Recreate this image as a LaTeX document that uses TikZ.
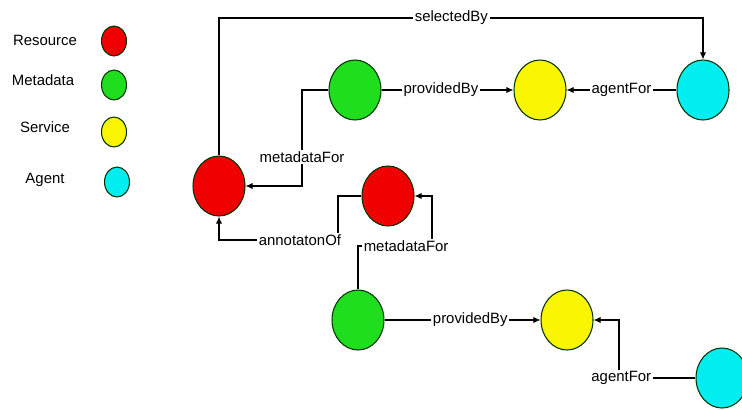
\documentclass[tikz,border=0pt]{standalone}
\usepackage{fontspec}
\setmainfont{Liberation Sans}
\usetikzlibrary{shapes.geometric,arrows.meta}

\definecolor{resred}{RGB}{240,0,0}
\definecolor{metagreen}{RGB}{30,222,30}
\definecolor{servyellow}{RGB}{250,245,0}
\definecolor{agentcyan}{RGB}{0,238,240}

\tikzset{
    blob/.style={ellipse, draw=black!80!green, line width=0.6pt, minimum width=1.04cm, minimum height=1.2cm, inner sep=0pt},
    dot/.style={ellipse, draw=black!80!green, line width=0.6pt, minimum width=0.5cm, minimum height=0.6cm, inner sep=0pt},
    rel/.style={line width=0.6pt, -{Latex[length=4pt,width=3.5pt]}},
    tag/.style={fill=white, inner sep=1pt, font=\fontsize{8.5}{10}\selectfont}
}

\begin{document}
\begin{tikzpicture}[x=0.02cm, y=-0.02cm]
    \useasboundingbox (0,0) rectangle (742,409);

    % Legenda
    \node[tag] (lres) at (45,40) {Resource};
    \node[tag] (lmeta) at (43,80) {Metadata};
    \node[tag] (lserv) at (45,127) {Service};
    \node[tag] (lagent) at (45,180) {Agent};
    \node[dot, fill=resred] (kres) at (114,41) {};
    \node[dot, fill=metagreen] (kmeta) at (114,85) {};
    \node[dot, fill=servyellow] (kserv) at (114,132) {};
    \node[dot, fill=agentcyan] (kagent) at (117,182) {};

    % Nodi
    \node[blob, fill=resred] (res1) at (219,186) {};
    \node[blob, fill=resred] (res2) at (388,196) {};
    \node[blob, fill=metagreen] (meta1) at (355,90) {};
    \node[blob, fill=metagreen] (meta2) at (358,320) {};
    \node[blob, fill=servyellow] (serv1) at (540,90) {};
    \node[blob, fill=servyellow] (serv2) at (567,320) {};
    \node[blob, fill=agentcyan] (agent1) at (703,90) {};
    \node[blob, fill=agentcyan] (agent2) at (722,378) {};

    % Relazioni
    \coordinate (top) at (219,18);
    \draw[rel] (res1.north) -- (top) -| node[tag, pos=0.24] {selectedBy} (agent1.north);
    \draw[rel] (meta1) -- node[tag, pos=0.45] {providedBy} (serv1);
    \draw[rel] (agent1) -- node[tag] {agentFor} (serv1);
    \draw[rel] (meta1.west) -- (302,90) -- node[tag, pos=0.7] {metadataFor} (302,186) -- (res1.east);
    \draw[rel] (res2.west) -- (338,196) -- (338,240) -- node[tag, pos=0.32] {annotatonOf} (219,240) -- (res1.south);
    \draw[rel] (meta2.north) -- (358,246) -- node[tag, pos=0.65] {metadataFor} (432,246) -- (432,196) -- (res2.east);
    \draw[rel] (meta2) -- node[tag, pos=0.55] {providedBy} (serv2);
    \draw[rel] (agent2.west) -- node[tag, pos=0.97] {agentFor} (619,378) -- (619,320) -- (serv2.east);
\end{tikzpicture}
\end{document}
